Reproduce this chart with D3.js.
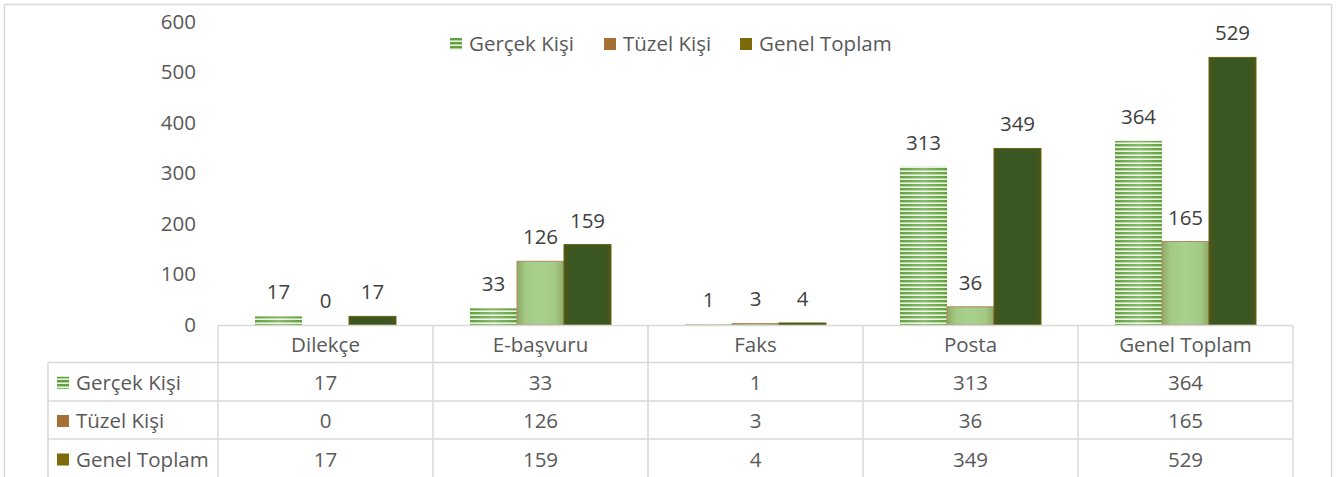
<!DOCTYPE html>
<html>
<head>
<meta charset="utf-8">
<script src="https://cdn.jsdelivr.net/npm/d3@7"></script>
<style>
  html, body { margin: 0; padding: 0; background: #fff; }
  svg { display: block; font-family: "Open Sans", "Noto Sans", sans-serif; }
</style>
</head>
<body>
<svg id="chart" width="1337" height="477"></svg>
<script>
// ── Data ───────────────────────────────────────────────
const categories = ['Dilekçe', 'E-başvuru', 'Faks', 'Posta', 'Genel Toplam'];
const seriesNames = ['Gerçek Kişi', 'Tüzel Kişi', 'Genel Toplam'];
const gercekKisi  = [17, 33, 1, 313, 364];
const tuzelKisi   = [0, 126, 3, 36, 165];
const genelToplam = [17, 159, 4, 349, 529];
const yTicks = [0, 100, 200, 300, 400, 500, 600];

const seriesValues = [gercekKisi, tuzelKisi, genelToplam];

const W = 1337, H = 477;
const plot = { left: 218, right: 1293, top: 21.5, bottom: 325 };
const textColor = '#595959';
const lineColor = '#d9d9d9';
const fontSize = 20.5;

const svg = d3.select('#chart');
const defs = svg.append('defs');

// striped fill for "Gerçek Kişi"
const pat = defs.append('pattern')
    .attr('id', 'stripes')
    .attr('patternUnits', 'userSpaceOnUse')
    .attr('width', 8).attr('height', 4);
pat.append('rect').attr('width', 8).attr('height', 4).attr('fill', '#e9f2e1');
pat.append('rect').attr('width', 8).attr('height', 2.4).attr('fill', '#62a23c');

// soft centre highlight over the stripes
const glow = defs.append('linearGradient').attr('id', 'glow');
glow.append('stop').attr('offset', '0%').attr('stop-color', '#fff').attr('stop-opacity', 0);
glow.append('stop').attr('offset', '50%').attr('stop-color', '#fff').attr('stop-opacity', 0.25);
glow.append('stop').attr('offset', '100%').attr('stop-color', '#fff').attr('stop-opacity', 0);

const tuzelGrad = defs.append('linearGradient').attr('id', 'tuzelGrad');
tuzelGrad.append('stop').attr('offset', '0%').attr('stop-color', '#8fa868');
tuzelGrad.append('stop').attr('offset', '18%').attr('stop-color', '#a3c985');
tuzelGrad.append('stop').attr('offset', '50%').attr('stop-color', '#a9d18e');
tuzelGrad.append('stop').attr('offset', '82%').attr('stop-color', '#a3c985');
tuzelGrad.append('stop').attr('offset', '100%').attr('stop-color', '#8fa868');

const genelGrad = defs.append('linearGradient').attr('id', 'genelGrad');
genelGrad.append('stop').attr('offset', '0%').attr('stop-color', '#4a5518');
genelGrad.append('stop').attr('offset', '15%').attr('stop-color', '#3a5722');
genelGrad.append('stop').attr('offset', '85%').attr('stop-color', '#3a5722');
genelGrad.append('stop').attr('offset', '100%').attr('stop-color', '#4a5518');

const barFill   = ['url(#stripes)', 'url(#tuzelGrad)', 'url(#genelGrad)'];
const barStroke = ['none', '#b08a64', '#6b6114'];
const legendFill = ['url(#stripes)', '#a66f35', '#7c6a0b'];

// outer frame
svg.append('rect')
    .attr('x', 4.5).attr('y', 4.5)
    .attr('width', 1327).attr('height', H + 10)
    .attr('fill', 'none').attr('stroke', lineColor).attr('stroke-width', 1.5);

// ── Scales ─────────────────────────────────────────────
const x0 = d3.scaleBand().domain(categories).range([plot.left, plot.right]);
const x1 = d3.scaleBand().domain(seriesNames).range([0, x0.bandwidth()])
    .paddingInner(0).paddingOuter(0.787);
const y = d3.scaleLinear().domain([0, 600]).range([plot.bottom, plot.top]);

// ── Y axis (labels only) ───────────────────────────────
const yAxis = d3.axisLeft(y).tickValues(yTicks).tickSize(0).tickPadding(0);
const yg = svg.append('g')
    .attr('transform', `translate(196,0)`)
    .call(yAxis);
yg.select('.domain').remove();
yg.selectAll('text')
    .attr('fill', textColor)
    .style('font-size', fontSize + 'px')
    .style('font-family', '"Open Sans", sans-serif');

// ── Bars ───────────────────────────────────────────────
const groups = svg.append('g').selectAll('g')
    .data(categories)
    .join('g')
    .attr('transform', d => `translate(${x0(d)},0)`);

seriesNames.forEach((s, si) => {
    groups.each(function(cat, ci) {
        const v = seriesValues[si][ci];
        const g = d3.select(this);
        const bx = x1(s), bw = x1.bandwidth();
        const top = y(v);
        const h = y(0) - top;
        if (v > 0) {
            g.append('rect')
                .attr('x', bx).attr('y', top)
                .attr('width', bw).attr('height', Math.max(h, 1))
                .attr('fill', barFill[si])
                .attr('stroke', barStroke[si])
                .attr('stroke-width', 1);
            if (si === 0) {
                g.append('rect')
                    .attr('x', bx).attr('y', top)
                    .attr('width', bw).attr('height', h)
                    .attr('fill', 'url(#glow)');
            }
        }
        g.append('text')
            .attr('x', bx + bw / 2)
            .attr('y', top - 17)
            .attr('text-anchor', 'middle')
            .attr('fill', '#404040')
            .style('font-size', fontSize + 'px')
            .text(v);
    });
});

// ── Legend ─────────────────────────────────────────────
const legendX = [450, 604, 740];
const legend = svg.append('g').selectAll('g')
    .data(seriesNames)
    .join('g')
    .attr('transform', (d, i) => `translate(${legendX[i]},38)`);
legend.append('rect')
    .attr('width', 12).attr('height', 12)
    .attr('fill', (d, i) => legendFill[i]);
legend.append('text')
    .attr('x', 19).attr('y', 6).attr('dy', '0.35em')
    .attr('fill', textColor)
    .style('font-size', fontSize + 'px')
    .text(d => d);

// ── Data table ─────────────────────────────────────────
const tableLeft = 48;
const rowY = [325.5, 362.5, 401, 439, 478];
const tg = svg.append('g')
    .attr('stroke', lineColor).attr('stroke-width', 1.5).attr('fill', 'none');

// horizontal lines
tg.append('line').attr('x1', plot.left).attr('x2', plot.right).attr('y1', rowY[0]).attr('y2', rowY[0]);
for (let r = 1; r < rowY.length - 1; r++) {
    tg.append('line').attr('x1', tableLeft).attr('x2', plot.right).attr('y1', rowY[r]).attr('y2', rowY[r]);
}
// vertical lines
tg.append('line').attr('x1', tableLeft).attr('x2', tableLeft).attr('y1', rowY[1]).attr('y2', H);
categories.forEach(c => {
    tg.append('line').attr('x1', x0(c)).attr('x2', x0(c)).attr('y1', rowY[0]).attr('y2', H);
});
tg.append('line').attr('x1', plot.right).attr('x2', plot.right).attr('y1', rowY[0]).attr('y2', H);

// header
svg.append('g').selectAll('text')
    .data(categories)
    .join('text')
    .attr('x', d => x0(d) + x0.bandwidth() / 2)
    .attr('y', (rowY[0] + rowY[1]) / 2 + 1)
    .attr('dy', '0.35em')
    .attr('text-anchor', 'middle')
    .attr('fill', textColor)
    .style('font-size', fontSize + 'px')
    .text(d => d);

// rows
seriesNames.forEach((s, si) => {
    const cy = (rowY[si + 1] + rowY[si + 2]) / 2 + 1;
    const row = svg.append('g');
    row.append('rect')
        .attr('x', 57).attr('y', cy - 6)
        .attr('width', 12).attr('height', 12)
        .attr('fill', legendFill[si]);
    row.append('text')
        .attr('x', 76).attr('y', cy).attr('dy', '0.35em')
        .attr('fill', textColor)
        .style('font-size', fontSize + 'px')
        .text(s);
    row.selectAll('text.val')
        .data(categories)
        .join('text')
        .attr('class', 'val')
        .attr('x', d => x0(d) + x0.bandwidth() / 2)
        .attr('y', cy).attr('dy', '0.35em')
        .attr('text-anchor', 'middle')
        .attr('fill', textColor)
        .style('font-size', fontSize + 'px')
        .text((d, ci) => seriesValues[si][ci]);
});
</script>
</body>
</html>
